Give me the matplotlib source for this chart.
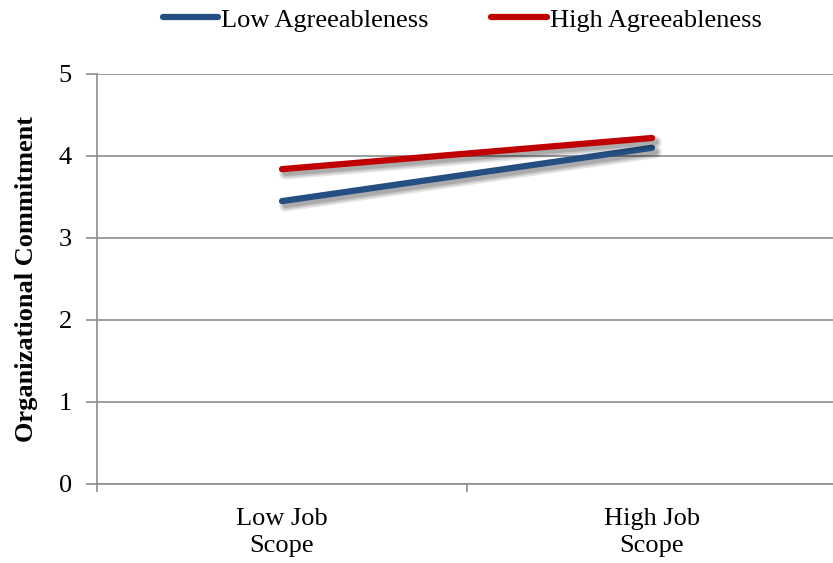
import matplotlib.pyplot as plt
import matplotlib.patheffects as pe
from matplotlib.lines import Line2D

plt.rcParams['font.family'] = ['Liberation Serif', 'DejaVu Serif']

categories = ["Low Job\nScope", "High Job\nScope"]
low_agree = [3.45, 4.10]
high_agree = [3.84, 4.22]
series = [("Low Agreeableness", low_agree, "#254e82"),
          ("High Agreeableness", high_agree, "#c00000")]

fig = plt.figure(figsize=(8.33, 5.63), dpi=100)
ax = fig.add_axes([97 / 833, 1 - 484 / 563, (837 - 97) / 833, 410 / 563])

x = list(range(len(categories)))
# soft drop shadow, built from a few faint offset strokes
shadow = [pe.SimpleLineShadow(offset=(2.5, -3), alpha=0.10, shadow_color="black", linewidth=9),
          pe.SimpleLineShadow(offset=(2.5, -3), alpha=0.12, shadow_color="black", linewidth=6.5),
          pe.SimpleLineShadow(offset=(2.5, -3), alpha=0.15, shadow_color="black", linewidth=4),
          pe.Normal()]
handles = []
for name, vals, col in series:
    ax.plot(x, vals, color=col, lw=4.5, solid_capstyle="round", path_effects=shadow)
    handles.append(Line2D([], [], color=col, lw=4.5, solid_capstyle="round", label=name))

ax.set_ylim(0, 5)
ax.set_xlim(-0.5, 1.5)
ax.set_yticks(range(0, 6))
ax.yaxis.grid(True, color="#8c8c8c", lw=1.2)
ax.set_axisbelow(True)
ax.tick_params(axis="y", labelsize=19, length=8, color="#8c8c8c", width=1.2, pad=10)

ax.set_xticks(x)
ax.set_xticklabels(categories, fontsize=19, linespacing=1.3)
ax.set_xticks([-0.5, 0.5, 1.5], minor=True)
ax.tick_params(axis="x", which="major", length=0, pad=17)
ax.tick_params(axis="x", which="minor", length=6, color="#8c8c8c", width=1.2)

for s in ["top", "right"]:
    ax.spines[s].set_visible(False)
for s in ["left", "bottom"]:
    ax.spines[s].set_color("#8c8c8c")
    ax.spines[s].set_linewidth(1.2)

ax.set_ylabel("Organizational Commitment", fontsize=19, fontweight="bold", labelpad=15)

fig.legend(handles=handles, loc="center", bbox_to_anchor=(462 / 833, 1 - 20 / 563), ncol=2,
           frameon=False, fontsize=19, handlelength=2.1, handletextpad=0.1, columnspacing=2.4)

fig.savefig("out.png", dpi=100)
